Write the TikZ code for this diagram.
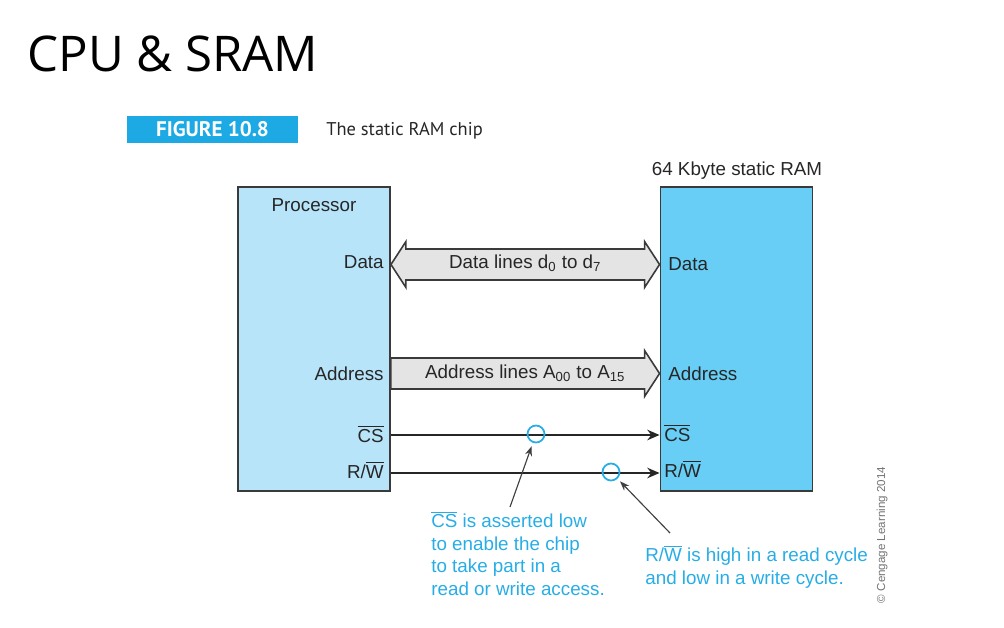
\documentclass[tikz,border=0pt]{standalone}
\usepackage{fontspec}
\setmainfont{Liberation Sans}
\newfontfamily\titlefont{Open Sans}
\newfontfamily\capfont{PT Sans}
\usetikzlibrary{arrows.meta, positioning, calc}
\definecolor{figcyan}{HTML}{1DA9E4}
\definecolor{notecyan}{HTML}{27ADE6}
\definecolor{procblue}{HTML}{B8E4F9}
\definecolor{ramblue}{HTML}{68CEF5}
\definecolor{busgray}{HTML}{E4E4E4}
\definecolor{edgegray}{HTML}{3A3A3A}
\newcommand{\ovl}[1]{$\overline{\mbox{#1}}$}
\tikzset{
    chip/.style={rectangle, draw=edgegray, line width=1.1pt, minimum width=3.04cm, minimum height=6.08cm, inner sep=0pt},
    pinlabel/.style={font=\fontsize{10.7}{12}\selectfont, text=black!85, inner sep=0pt},
    bus/.style={draw=edgegray, line width=0.9pt, fill=busgray},
    signal/.style={-{Stealth[length=7pt, width=6pt]}, line width=0.85pt, draw=black!85},
    marker/.style={circle, draw=notecyan, line width=1pt, minimum size=0.34cm, inner sep=0pt},
    pointer/.style={-{Stealth[length=5.5pt, width=4pt]}, line width=0.65pt, draw=black!75, shorten >=2pt},
    note/.style={font=\fontsize{10.7}{12.8}\selectfont, text=notecyan, align=left, inner sep=0pt}
}

\begin{document}
\begin{tikzpicture}[x=0.02cm, y=-0.02cm]
    \useasboundingbox (0,0) rectangle (1004,628);

    % heading
    \node[anchor=base west, inner sep=0pt, font=\titlefont\fontsize{28}{30}\selectfont] (title) at (27,72) {CPU \& SRAM};
    \node[fill=figcyan, minimum width=3.42cm, minimum height=0.54cm, inner sep=0pt, text=white, font=\capfont\bfseries\fontsize{12}{14}\selectfont] (figtag) at (212.5,129.5) {FIGURE 10.8};
    \node[anchor=base west, inner sep=0pt, text=black!85, font=\capfont\fontsize{10.5}{12}\selectfont] (figcap) at (326,136) {The static RAM chip};

    % the two chips
    \node[chip, fill=procblue] (proc) at (314,339) {};
    \node[chip, fill=ramblue] (sram) at (736.5,339) {};
    \node[pinlabel, anchor=base] (proctitle) at (314,212) {Processor};
    \node[pinlabel, anchor=base] (sramtitle) at (737,176) {64 Kbyte static RAM};

    % pin names
    \node[pinlabel, anchor=base east] (pdata) at (384,269) {Data};
    \node[pinlabel, anchor=base east] (paddr) at (384,380) {Address};
    \node[pinlabel, anchor=base east] (pcs) at (384,442) {\ovl{CS}};
    \node[pinlabel, anchor=base east] (prw) at (384,478) {R/\ovl{W}};
    \node[pinlabel, anchor=base west] (sdata) at (668,271) {Data};
    \node[pinlabel, anchor=base west] (saddr) at (668,380) {Address};
    \node[pinlabel, anchor=base west] (scs) at (664,441) {\ovl{CS}};
    \node[pinlabel, anchor=base west] (srw) at (664,477) {R/\ovl{W}};

    % data and address buses
    \coordinate (dl) at (proc.east |- 0,264.5);
    \coordinate (dr) at (sram.west |- 0,264.5);
    \draw[bus] (dl) -- ++(15,-23) -- ++(0,7.5) -- ($(dr)+(-15,-15.5)$) -- ++(0,-7.5) -- (dr)
        -- ++(-15,23) -- ++(0,-7.5) -- ($(dl)+(15,15.5)$) -- ++(0,7.5) -- cycle;
    \node[pinlabel, anchor=base] (dbus) at ($(dl)!0.5!(dr)+(0,4)$) {Data lines d\textsubscript{0} to d\textsubscript{7}};

    \coordinate (al) at (proc.east |- 0,373.5);
    \coordinate (ar) at (sram.west |- 0,373.5);
    \draw[bus] ($(al)+(0,-15.5)$) -- ($(ar)+(-15,-15.5)$) -- ++(0,-7.5) -- (ar)
        -- ++(-15,23) -- ++(0,-7.5) -- ($(al)+(0,15.5)$) -- cycle;
    \node[pinlabel, anchor=base] (abus) at ($(al)!0.5!(ar)+(0,5)$) {Address lines A\textsubscript{00} to A\textsubscript{15}};

    % control lines
    \draw[signal] (proc.east |- 0,435) -- (sram.west |- 0,435);
    \draw[signal] (proc.east |- 0,473) -- (sram.west |- 0,473);
    \node[marker] (cscirc) at (536,434) {};
    \node[marker] (rwcirc) at (611,472) {};

    % notes
    \node[note, anchor=north west] (csnote) at (431,511) {\ovl{CS} is asserted low\\to enable the chip\\to take part in a\\read or write access.};
    \node[note, anchor=north west] (rwnote) at (645,545) {R/\ovl{W} is high in a read cycle\\and low in a write cycle.};
    \draw[pointer] ($(csnote.north west)+(79,-4)$) -- (cscirc);
    \draw[pointer] ($(rwnote.north west)+(25,-12)$) -- (rwcirc);

    \node[rotate=90, inner sep=0pt, text=black!55, font=\fontsize{6.6}{8}\selectfont] (credit) at (882,535) {\textcopyright{} Cengage Learning 2014};
\end{tikzpicture}
\end{document}
